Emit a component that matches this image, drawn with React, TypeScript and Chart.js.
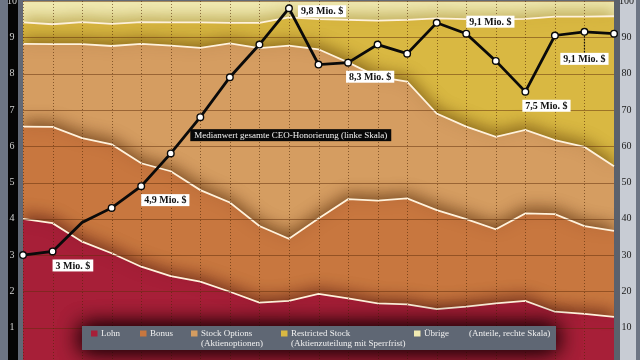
import React, { useEffect, useRef } from 'react';
import { Chart, registerables } from 'chart.js';

// ---------- data ----------
const years = ['1993','1994','1995','1996','1997','1998','1999','2000','2001','2002','2003','2004','2005','2006','2007','2008','2009','2010','2011','2012','2013'];

// shares of total CEO pay, percent (right scale)
const lohn = [40.0, 38.8, 33.7, 30.5, 26.8, 24.2, 22.7, 19.9, 16.9, 17.4, 19.3, 18.1, 16.7, 16.4, 15.1, 15.8, 16.7, 17.4, 14.4, 13.8, 13.0];
const bonus = [25.4, 26.5, 28.5, 30.0, 28.5, 28.9, 25.2, 24.6, 21.1, 17.1, 20.8, 27.3, 28.3, 29.2, 27.3, 24.1, 20.4, 24.1, 26.9, 24.2, 23.7];
const stockOptions = [22.8, 22.8, 25.9, 27.1, 32.9, 34.6, 39.2, 43.8, 49.0, 53.2, 46.6, 37.7, 34.1, 32.2, 26.6, 25.5, 25.5, 23.0, 20.4, 21.8, 17.8];
const restrictedStock = [5.9, 5.5, 6.1, 6.1, 6.0, 6.4, 7.0, 5.7, 7.0, 7.8, 8.3, 11.7, 15.5, 17.0, 26.2, 29.6, 32.3, 30.6, 34.0, 35.9, 41.3];
const uebrige = [5.9, 6.4, 5.8, 6.3, 5.8, 5.9, 5.9, 6.0, 6.0, 4.5, 5.0, 5.2, 5.4, 5.2, 4.8, 5.0, 5.1, 4.9, 4.3, 4.3, 4.2];

// median total CEO pay, million $ (left scale)
const medianPay = [3.0, 3.1, 3.9, 4.3, 4.9, 5.8, 6.8, 7.9, 8.8, 9.8, 8.25, 8.3, 8.8, 8.55, 9.4, 9.1, 8.35, 7.5, 9.05, 9.15, 9.1];
const hiddenMarkers = [2];

const leftTicks = [0, 1, 2, 3, 4, 5, 6, 7, 8, 9, 10];
const rightTicks = [0, 10, 20, 30, 40, 50, 60, 70, 80, 90, 100];

const seriesNames = ['Lohn', 'Bonus', 'Stock Options', 'Restricted Stock', 'Übrige'];
const seriesSubNames = ['', '', '(Aktienoptionen)', '(Aktienzuteilung mit Sperrfrist)', ''];
const legendNote = '(Anteile, rechte Skala)';
const lineName = 'Medianwert gesamte CEO-Honorierung (linke Skala)';

const calloutIndex = [1, 4, 9, 11, 15, 17, 19];
const calloutText = ['3 Mio. $', '4,9 Mio. $', '9,8 Mio. $', '8,3 Mio. $', '9,1 Mio. $', '7,5 Mio. $', '9,1 Mio. $'];

// ---------- styling ----------
const FONT = "'Liberation Serif', 'DejaVu Serif', serif";
const areaColors = ['#a71f38', '#c8773f', '#d59d61', '#d9b842', '#f1eab2'];
const shadowColors = ['rgba(70,10,10,0.6)', 'rgba(80,35,5,0.65)', 'rgba(90,55,5,0.6)', 'rgba(150,120,10,0.55)', 'rgba(0,0,0,0)'];
const boundaryColor = '#fff2dc';

// callout placement relative to its point (layout only)
const calloutPlace = [
  { dx: 0, dy: 8 },
  { dx: 0, dy: 8 },
  { dx: 9, dy: -3 },
  { dx: -2, dy: 8 },
  { dx: 0, dy: -18 },
  { dx: -3, dy: 8 },
  { center: true, dy: 21, leader: true },
];

function drawGrid(chart: any) {
  const { ctx, chartArea: a, scales } = chart;
  ctx.save();
  ctx.beginPath();
  ctx.rect(a.left, a.top, a.right - a.left, a.bottom - a.top);
  ctx.clip();
  ctx.lineWidth = 1;
  ctx.strokeStyle = 'rgba(95,45,10,0.5)';
  scales.yL.ticks.forEach((t: any) => {
    const y = Math.round(scales.yL.getPixelForValue(t.value)) + 0.5;
    ctx.beginPath();
    ctx.moveTo(a.left, y);
    ctx.lineTo(a.right, y);
    ctx.stroke();
  });
  ctx.strokeStyle = 'rgba(80,40,5,0.6)';
  ctx.setLineDash([1, 2]);
  years.forEach((_, i) => {
    const x = Math.round(scales.x.getPixelForValue(i)) + 0.5;
    ctx.beginPath();
    ctx.moveTo(x, a.top);
    ctx.lineTo(x, a.bottom);
    ctx.stroke();
  });
  ctx.restore();
}

const shadowPlugin = {
  id: 'areaShadow',
  beforeDatasetDraw(chart: any, args: any) {
    if (args.index > 4) {
      drawGrid(chart);
      return;
    }
    const ctx = chart.ctx;
    ctx.save();
    ctx.shadowColor = shadowColors[args.index];
    ctx.shadowBlur = 15;
    ctx.shadowOffsetX = 0;
    ctx.shadowOffsetY = -4;
  },
  afterDatasetDraw(chart: any, args: any) {
    if (args.index > 4) return;
    chart.ctx.restore();
  },
};

Chart.register(shadowPlugin);
Chart.register(...registerables);

const backgroundPlugin = {
  id: 'bands',
  beforeDraw(chart: any) {
    const { ctx, width, height, chartArea } = chart;
    ctx.save();
    ctx.fillStyle = '#626976';
    ctx.fillRect(0, 0, width, height);
    ctx.fillStyle = '#6d7584';
    ctx.fillRect(0, 0, 8, height);
    ctx.fillStyle = '#050505';
    ctx.fillRect(8, 0, 10, height);
    ctx.fillStyle = '#5b616c';
    ctx.fillRect(chartArea.right, 0, 6, height);
    ctx.fillStyle = '#c8ccd4';
    ctx.fillRect(chartArea.right + 6, 0, 16, height);
    ctx.fillStyle = '#6d7584';
    ctx.fillRect(chartArea.right + 22, 0, width - chartArea.right - 22, height);
    ctx.restore();
  },
};

const overlayPlugin = {
  id: 'overlay',
  afterDraw(chart: any) {
    const ctx = chart.ctx;
    const meta = chart.getDatasetMeta(5);
    const area = chart.chartArea;
    ctx.save();
    ctx.textBaseline = 'middle';
    // callouts
    ctx.font = `bold 10px ${FONT}`;
    calloutIndex.forEach((idx, k) => {
      const pt = meta.data[idx];
      const text = calloutText[k];
      const place: any = calloutPlace[k];
      const w = ctx.measureText(text).width + 6;
      const h = 12;
      const left = place.center ? pt.x - w / 2 : pt.x + place.dx;
      const top = pt.y + place.dy;
      if (place.leader) {
        ctx.save();
        ctx.strokeStyle = '#111';
        ctx.lineWidth = 1.2;
        ctx.setLineDash([1.5, 1.5]);
        ctx.beginPath();
        ctx.moveTo(pt.x, pt.y + 4);
        ctx.lineTo(pt.x, top);
        ctx.stroke();
        ctx.restore();
      }
      ctx.fillStyle = '#ffffff';
      ctx.fillRect(left, top, w, h);
      ctx.fillStyle = '#111';
      ctx.textAlign = 'left';
      ctx.fillText(text, left + 3, top + h / 2 + 0.5);
    });
    // series label
    {
      const pt = meta.data[6];
      ctx.font = `9px ${FONT}`;
      const w = ctx.measureText(lineName).width + 8;
      const left = pt.x - 10;
      const top = pt.y + 12;
      ctx.fillStyle = '#080808';
      ctx.fillRect(left, top, w, 12);
      ctx.fillStyle = '#f2f2f2';
      ctx.fillText(lineName, left + 4, top + 6.5);
    }
    // legend
    {
      const bx = area.left + 59;
      const bw = 474;
      const by = area.bottom - 38;
      const bh = 24;
      ctx.save();
      ctx.shadowColor = 'rgba(25,0,5,0.95)';
      ctx.shadowBlur = 22;
      ctx.fillStyle = '#5f6774';
      ctx.fillRect(bx, by, bw, bh);
      ctx.fillRect(bx, by, bw, bh);
      ctx.restore();
      const itemX = [9, 58, 109, 199, 332];
      ctx.font = `9px ${FONT}`;
      ctx.textAlign = 'left';
      seriesNames.forEach((name, i) => {
        const x = bx + itemX[i];
        ctx.fillStyle = areaColors[i];
        ctx.fillRect(x, by + 4.5, 6.5, 6);
        ctx.fillStyle = '#f0f0f0';
        ctx.fillText(name, x + 10, by + 8);
        if (seriesSubNames[i]) ctx.fillText(seriesSubNames[i], x + 10, by + 18);
      });
      ctx.fillText(legendNote, bx + 387, by + 8);
    }
    ctx.restore();
  },
};

function makeArea(i: number, values: number[]) {
  return {
    type: 'line' as const,
    label: seriesNames[i],
    data: values,
    yAxisID: 'y',
    stack: 'shares',
    fill: 'origin',
    backgroundColor: areaColors[i],
    borderColor: i === 4 ? 'rgba(0,0,0,0)' : boundaryColor,
    borderWidth: i === 4 ? 0 : 1.8,
    pointRadius: 0,
    tension: 0,
    order: 0,
  };
}

export default function App() {
  const ref = useRef<HTMLCanvasElement>(null);
  useEffect(() => {
    if (!ref.current) return;
    const chart = new Chart(ref.current, {
      type: 'line',
      data: {
        labels: years,
        datasets: [
          makeArea(0, lohn),
          makeArea(1, bonus),
          makeArea(2, stockOptions),
          makeArea(3, restrictedStock),
          makeArea(4, uebrige),
          {
            type: 'line',
            label: lineName,
            data: medianPay,
            yAxisID: 'yL',
            fill: false,
            borderColor: '#0a0a0a',
            borderWidth: 2.8,
            tension: 0,
            pointRadius: medianPay.map((_, i) => (hiddenMarkers.includes(i) ? 0 : 3.3)),
            pointBackgroundColor: '#ffffff',
            pointBorderColor: '#0a0a0a',
            pointBorderWidth: 1.4,
            order: -1,
          } as any,
        ],
      },
      options: {
        animation: false,
        responsive: false,
        devicePixelRatio: 1,
        layout: { autoPadding: false, padding: { top: 1, bottom: 2, left: 0, right: 0 } },
        plugins: { legend: { display: false }, tooltip: { enabled: false } },
        scales: {
          x: {
            type: 'category',
            display: true,
            offset: false,
            ticks: { display: false },
            grid: { display: false, drawTicks: false },
            border: { display: false },
            afterFit: (s: any) => { s.height = 0; s.paddingLeft = 0; s.paddingRight = 0; },
          },
          yL: {
            type: 'linear',
            position: 'left',
            min: 0,
            max: 10,
            afterBuildTicks: (s: any) => { s.ticks = leftTicks.map((v) => ({ value: v })); },
            ticks: { color: '#d0d0d0', font: { family: FONT, size: 10 }, padding: 6, crossAlign: 'center' },
            grid: { display: false, drawTicks: false },
            border: { display: false },
            afterFit: (s: any) => { s.width = 23; s.paddingTop = 0; s.paddingBottom = 0; },
          },
          y: {
            type: 'linear',
            position: 'right',
            stacked: true,
            min: 0,
            max: 100,
            afterBuildTicks: (s: any) => { s.ticks = rightTicks.map((v) => ({ value: v })); },
            ticks: { color: '#1a1a1a', font: { family: FONT, size: 10 }, padding: 5, crossAlign: 'center' },
            grid: { display: false, drawTicks: false },
            border: { display: false },
            afterFit: (s: any) => { s.width = 26; s.paddingTop = 0; s.paddingBottom = 0; },
          },
        },
      } as any,
      plugins: [backgroundPlugin, overlayPlugin],
    });
    return () => chart.destroy();
  }, []);
  return (
    <div style={{ position: 'fixed', left: 0, top: 0, width: 640, height: 366 }}>
      <canvas ref={ref} width={640} height={366} style={{ display: 'block', width: 640, height: 366 }} />
    </div>
  );
}
